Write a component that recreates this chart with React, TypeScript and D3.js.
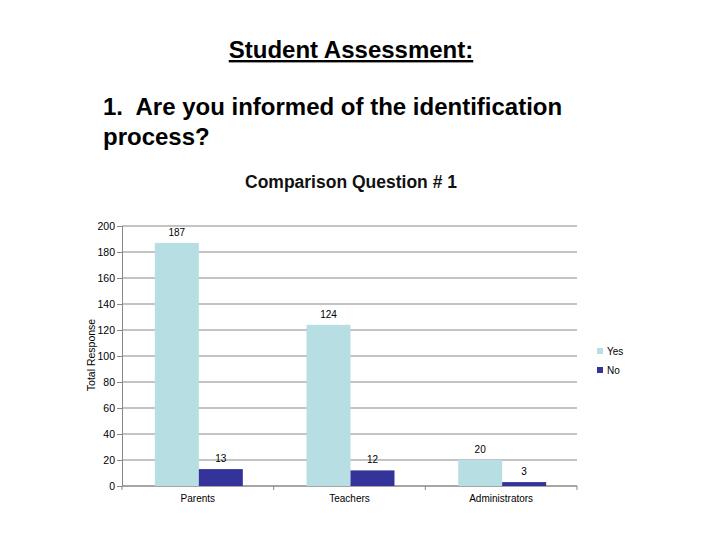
import React, { useEffect, useRef } from "react";
import * as d3 from "d3";

// chart data
const categories = ["Parents", "Teachers", "Administrators"];
const seriesNames = ["Yes", "No"];
const yesValues = [187, 124, 20];
const noValues = [13, 12, 3];
const yTicks = [0, 20, 40, 60, 80, 100, 120, 140, 160, 180, 200];
const colors = ["#B7DEE3", "#333399"];

const W = 720;
const H = 540;

export default function App() {
  const ref = useRef<SVGSVGElement>(null);

  useEffect(() => {
    const svg = d3.select(ref.current);
    svg.selectAll("*").remove();

    const font = "Arial, 'Liberation Sans', sans-serif";
    const margin = { top: 226, left: 122, right: 143, bottom: 54 };
    const width = W - margin.left - margin.right;
    const height = H - margin.top - margin.bottom;

    svg.append("rect").attr("width", W).attr("height", H).attr("fill", "#fff");

    // slide titles
    svg.append("text")
      .attr("x", 351).attr("y", 58)
      .attr("text-anchor", "middle")
      .attr("font-family", font).attr("font-size", 24).attr("font-weight", "bold")
      .attr("text-decoration", "underline")
      .text("Student Assessment:");

    const q = svg.append("text")
      .attr("font-family", font).attr("font-size", 24).attr("font-weight", "bold")
      .style("white-space", "pre");
    q.append("tspan").attr("x", 103).attr("y", 115).text("1.  Are you informed of the identification");
    q.append("tspan").attr("x", 103).attr("y", 145).text("process?");

    svg.append("text")
      .attr("x", 351).attr("y", 188)
      .attr("text-anchor", "middle")
      .attr("font-family", font).attr("font-size", 17.5).attr("font-weight", "bold")
      .attr("fill", "#111")
      .text("Comparison Question # 1");

    const g = svg.append("g").attr("transform", `translate(${margin.left},${margin.top})`);

    const x0 = d3.scaleBand().domain(categories).range([0, width]).paddingInner(0.42).paddingOuter(0.21);
    const x1 = d3.scaleBand().domain(seriesNames).range([0, x0.bandwidth()]);
    const y = d3.scaleLinear().domain([0, 200]).range([height, 0]);

    // gridlines
    g.selectAll("line.grid")
      .data(yTicks)
      .join("line")
      .attr("x1", 0).attr("x2", width)
      .attr("y1", d => y(d)).attr("y2", d => y(d))
      .attr("stroke", "#888").attr("stroke-width", 1);

    // y axis
    const yAxis = g.append("g")
      .call(d3.axisLeft(y).tickValues(yTicks).tickSize(5).tickPadding(2));
    yAxis.select(".domain").attr("stroke", "#888");
    yAxis.selectAll(".tick line").attr("stroke", "#888");
    yAxis.selectAll("text").attr("font-family", font).attr("font-size", 10.5).attr("fill", "#000");

    // x axis with ticks between categories
    const xAxis = g.append("g").attr("transform", `translate(0,${height})`);
    xAxis.append("line").attr("x1", 0).attr("x2", width).attr("stroke", "#888");
    const step = width / categories.length;
    xAxis.selectAll("line.sep")
      .data(d3.range(categories.length + 1))
      .join("line")
      .attr("x1", d => d * step).attr("x2", d => d * step)
      .attr("y1", 0).attr("y2", 4)
      .attr("stroke", "#888");
    xAxis.selectAll("text")
      .data(categories)
      .join("text")
      .attr("x", d => (x0(d) ?? 0) + x0.bandwidth() / 2)
      .attr("y", 16)
      .attr("text-anchor", "middle")
      .attr("font-family", font).attr("font-size", 10)
      .text(d => d);

    // bars
    const rows = categories.map((c, i) => ({ c, vals: [yesValues[i], noValues[i]] }));
    const grp = g.selectAll("g.cat")
      .data(rows)
      .join("g")
      .attr("transform", d => `translate(${(x0(d.c) ?? 0) + 1},0)`);

    grp.selectAll("rect")
      .data(d => d.vals.map((v, j) => ({ s: seriesNames[j], v, j })))
      .join("rect")
      .attr("x", d => x1(d.s) ?? 0)
      .attr("width", x1.bandwidth())
      .attr("y", d => y(d.v))
      .attr("height", d => height - y(d.v))
      .attr("fill", d => colors[d.j]);

    grp.selectAll("text")
      .data(d => d.vals.map((v, j) => ({ s: seriesNames[j], v, j })))
      .join("text")
      .attr("x", d => (x1(d.s) ?? 0) + x1.bandwidth() / 2)
      .attr("y", d => y(d.v) - 7)
      .attr("text-anchor", "middle")
      .attr("font-family", font).attr("font-size", 10)
      .text(d => d.v);

    // y axis title
    svg.append("text")
      .attr("transform", `translate(95,${margin.top + height / 2 - 1}) rotate(-90)`)
      .attr("text-anchor", "middle")
      .attr("font-family", font).attr("font-size", 10.5)
      .text("Total Response");

    // legend
    const leg = svg.append("g").attr("transform", "translate(597,348)");
    seriesNames.forEach((s, i) => {
      leg.append("rect").attr("x", 0).attr("y", i * 19).attr("width", 6).attr("height", 6).attr("fill", colors[i]);
      leg.append("text").attr("x", 10).attr("y", i * 19 + 7)
        .attr("font-family", font).attr("font-size", 10).text(s);
    });
  }, []);

  return (
    <svg ref={ref} width={W} height={H} style={{ position: "absolute", left: 0, top: 0 }} />
  );
}
